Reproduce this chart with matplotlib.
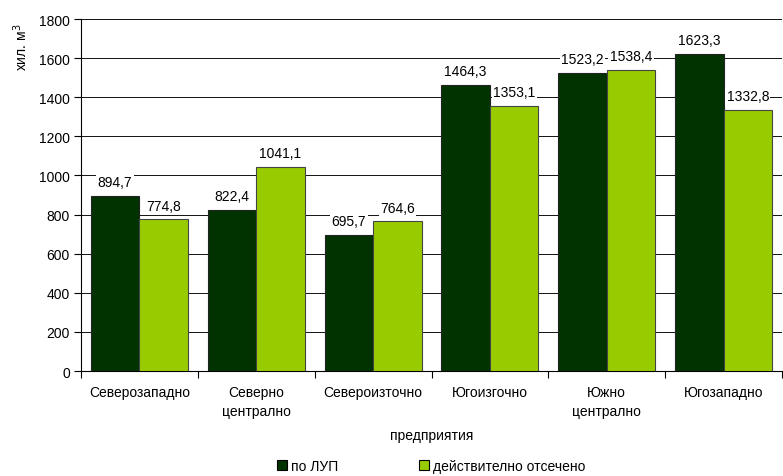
import matplotlib
matplotlib.use("Agg")
import matplotlib.pyplot as plt
import numpy as np
from matplotlib.patches import Patch

categories = ["Северозападно", "Северно\nцентрално", "Североизточно", "Югоизгочно", "Южно\nцентрално", "Югозападно"]
plan = [894.7, 822.4, 695.7, 1464.3, 1523.2, 1623.3]
actual = [774.8, 1041.1, 764.6, 1353.1, 1538.4, 1332.8]
series_names = ["по ЛУП", "действително отсечено"]
yticks = [0, 200, 400, 600, 800, 1000, 1200, 1400, 1600, 1800]

plt.rcParams['font.family'] = ['Liberation Sans', 'DejaVu Sans']
FS = 10
fig = plt.figure(figsize=(7.83, 4.77), dpi=100)
ax = fig.add_axes([81/783, 1-372/477, 701/783, 352/477])

dark = "#003300"
light = "#99CC00"
x = np.arange(len(categories))
w = 0.415
b1 = ax.bar(x - w/2, plan, w, color=dark, edgecolor="#222222", linewidth=0.8, zorder=3)
b2 = ax.bar(x + w/2, actual, w, color=light, edgecolor="#444444", linewidth=0.8, zorder=3)

def fmt(v):
    return f"{v:.1f}".replace(".", ",")

for bars, vals in ((b1, plan), (b2, actual)):
    for r, v in zip(bars, vals):
        ax.annotate(fmt(v), (r.get_x() + r.get_width()/2, v), xytext=(0, 5),
                    textcoords="offset points", ha="center", va="bottom", fontsize=FS,
                    bbox=dict(facecolor="white", edgecolor="none", pad=1), zorder=4)

ax.set_xlim(-0.5, len(categories) - 0.5)
ax.set_ylim(0, 1800)
ax.set_yticks(yticks)
ax.set_yticklabels([str(t) for t in yticks], fontsize=FS)
ax.yaxis.grid(True, color="#111111", linewidth=0.7, zorder=0)
ax.set_axisbelow(True)

ax.set_xticks(x)
ax.set_xticklabels(categories, fontsize=FS, linespacing=1.45)
ax.tick_params(axis="x", length=0, pad=10)
ax.set_xticks(np.arange(-0.5, len(categories) + 0.5, 1), minor=True)
ax.tick_params(axis="x", which="minor", length=5, direction="out", width=0.8)
ax.tick_params(axis="y", length=5, direction="out", width=0.8, pad=3)

for s in ["top", "right"]:
    ax.spines[s].set_visible(False)
ax.spines["left"].set_linewidth(0.8)
ax.spines["bottom"].set_linewidth(0.8)

fig.text(432/783, 1-436/477, "предприятия", fontsize=FS, ha="center", va="center")
fig.text(21/783, 1-47/477, "хил. м$^3$", rotation=90, fontsize=FS, ha="center", va="center")

handles = [Patch(facecolor=dark, edgecolor="black", linewidth=0.8),
           Patch(facecolor=light, edgecolor="black", linewidth=0.8)]
fig.legend(handles, series_names, loc="center", bbox_to_anchor=(0.551, 1-467/477), ncol=2,
           frameon=False, fontsize=FS, handlelength=0.7, handleheight=0.7,
           handletextpad=0.3, columnspacing=5.8)

fig.savefig("out.png", dpi=100)
